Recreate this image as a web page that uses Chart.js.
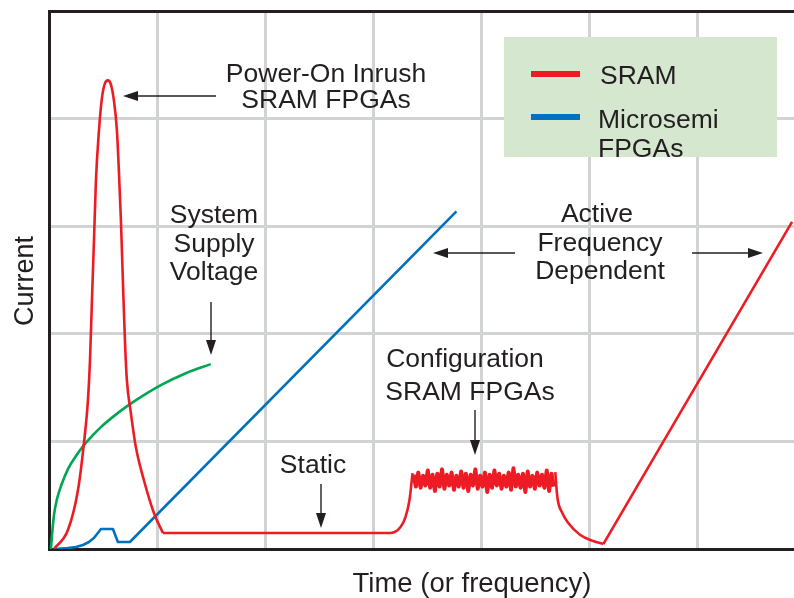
<!DOCTYPE html>
<html>
<head>
<meta charset="utf-8">
<script src="https://cdn.jsdelivr.net/npm/chart.js@4/dist/chart.umd.min.js"></script>
<style>
  body { margin: 0; background: #fff; }
  canvas { display: block; }
</style>
</head>
<body>
<canvas id="chart" width="794" height="598"></canvas>
<script>
// axes are in grid units (one grid cell = 1)
const xMax = 6.888;
const yMax = 5;

// SRAM FPGA: power-on inrush spike
const sramInrushX = [0.046, 0.175, 0.268, 0.323, 0.360, 0.379, 0.397, 0.416, 0.434, 0.462, 0.489, 0.517, 0.545,
                     0.572, 0.600, 0.628, 0.646, 0.665, 0.683, 0.702, 0.720, 0.757, 0.803, 0.877, 0.970, 1.053];
const sramInrushY = [0.000, 0.176, 0.548, 0.984, 1.383, 1.755, 2.312, 2.869, 3.426, 3.890, 4.188, 4.327, 4.355,
                     4.318, 4.169, 3.890, 3.519, 3.055, 2.498, 1.941, 1.569, 1.263, 0.947, 0.641, 0.334, 0.149];

// SRAM FPGA: static level, then rise into configuration
const sramStaticX = [1.053, 3.158, 3.250, 3.296, 3.333, 3.361];
const sramStaticY = [0.149, 0.149, 0.204, 0.297, 0.455, 0.706];

// SRAM FPGA: noisy configuration current
const sramConfigX = [3.370, 3.392, 3.414, 3.436, 3.458, 3.480, 3.502, 3.524, 3.546, 3.568,
                     3.590, 3.612, 3.634, 3.656, 3.678, 3.700, 3.722, 3.744, 3.766, 3.788,
                     3.810, 3.832, 3.854, 3.876, 3.898, 3.920, 3.942, 3.964, 3.986, 4.008,
                     4.030, 4.052, 4.074, 4.096, 4.118, 4.140, 4.162, 4.184, 4.206, 4.228,
                     4.250, 4.272, 4.294, 4.316, 4.338, 4.360, 4.382, 4.404, 4.426, 4.448,
                     4.470, 4.492, 4.514, 4.536, 4.558, 4.580, 4.602, 4.624, 4.646, 4.668];
const sramConfigY = [0.69, 0.58, 0.71, 0.57, 0.68, 0.59, 0.73, 0.57, 0.69, 0.54,
                     0.70, 0.58, 0.74, 0.56, 0.69, 0.59, 0.71, 0.55, 0.68, 0.58,
                     0.72, 0.57, 0.70, 0.54, 0.69, 0.59, 0.74, 0.56, 0.68, 0.58,
                     0.71, 0.53, 0.69, 0.57, 0.73, 0.59, 0.70, 0.56, 0.68, 0.58,
                     0.71, 0.55, 0.75, 0.58, 0.69, 0.57, 0.70, 0.53, 0.72, 0.58,
                     0.68, 0.56, 0.71, 0.59, 0.69, 0.57, 0.73, 0.54, 0.70, 0.58];

// SRAM FPGA: decay after configuration, then active (frequency dependent) ramp
const sramDecayX = [4.681, 4.700, 4.746, 4.801, 4.912, 5.032, 5.125];
const sramDecayY = [0.715, 0.483, 0.334, 0.241, 0.130, 0.074, 0.046];
const sramActiveX = [5.125, 6.870];
const sramActiveY = [0.046, 3.040];

// Microsemi FPGA
const microsemiX = [0.046, 0.175, 0.249, 0.314, 0.369, 0.415, 0.452, 0.480, 0.591, 0.637, 0.748, 3.767];
const microsemiY = [0.000, 0.009, 0.019, 0.037, 0.065, 0.102, 0.149, 0.186, 0.186, 0.065, 0.065, 3.138];

// System supply voltage
const supplyX = [0.018, 0.028, 0.046, 0.074, 0.111, 0.175, 0.249, 0.323, 0.406, 0.480, 0.600, 0.729, 0.877, 1.034, 1.265, 1.496];
const supplyY = [0.000, 0.130, 0.316, 0.464, 0.585, 0.743, 0.864, 0.966, 1.058, 1.133, 1.235, 1.332, 1.430, 1.523, 1.634, 1.718];

const red = '#ed1c24';
const blue = '#0072bc';
const green = '#00a651';
const ink = '#231f20';
const gridGrey = '#d1d3d4';
const fontFamily = '"Liberation Sans", Arial, Helvetica, sans-serif';

function points(xs, ys) {
    return xs.map((x, i) => ({ x: x, y: ys[i] }));
}

function line(label, xs, ys, color, opts) {
    return Object.assign({
        label: label,
        data: points(xs, ys),
        borderColor: color,
        borderWidth: 2.6,
        borderJoinStyle: 'round',
        pointRadius: 0,
        showLine: true,
        fill: false,
        tension: 0
    }, opts || {});
}

function arrow(ctx, x1, y1, x2, y2) {
    const a = Math.atan2(y2 - y1, x2 - x1);
    const len = 15, half = 5;
    ctx.beginPath();
    ctx.moveTo(x1, y1);
    ctx.lineTo(x2 - Math.cos(a) * len * 0.8, y2 - Math.sin(a) * len * 0.8);
    ctx.stroke();
    ctx.beginPath();
    ctx.moveTo(x2, y2);
    ctx.lineTo(x2 - Math.cos(a) * len - Math.sin(a) * half, y2 - Math.sin(a) * len + Math.cos(a) * half);
    ctx.lineTo(x2 - Math.cos(a) * len + Math.sin(a) * half, y2 - Math.sin(a) * len - Math.cos(a) * half);
    ctx.closePath();
    ctx.fill();
}

const annotations = {
    id: 'annotations',
    afterDraw(chart) {
        const ctx = chart.ctx;
        ctx.save();
        ctx.fillStyle = ink;
        ctx.strokeStyle = ink;
        ctx.lineWidth = 1.4;
        ctx.textBaseline = 'alphabetic';
        ctx.textAlign = 'center';
        ctx.font = '26.5px ' + fontFamily;

        ctx.fillText('Power-On Inrush', 326, 82);
        ctx.fillText('SRAM FPGAs', 326, 108);
        arrow(ctx, 216, 96, 123, 96);

        ctx.fillText('System', 214, 223);
        ctx.fillText('Supply', 214, 252);
        ctx.fillText('Voltage', 214, 280);
        arrow(ctx, 211, 302, 211, 355);

        ctx.fillText('Active', 597, 222);
        ctx.fillText('Frequency', 600, 251);
        ctx.fillText('Dependent', 600, 279);
        arrow(ctx, 515, 253, 433, 253);
        arrow(ctx, 692, 253, 763, 253);

        ctx.fillText('Configuration', 465, 367);
        ctx.fillText('SRAM FPGAs', 470, 400);
        arrow(ctx, 475, 410, 475, 455);

        ctx.fillText('Static', 313, 473);
        arrow(ctx, 321, 484, 321, 528);

        // legend
        ctx.fillStyle = '#d6e7d0';
        ctx.fillRect(504, 37, 273, 120);
        ctx.lineWidth = 6;
        ctx.strokeStyle = red;
        ctx.beginPath(); ctx.moveTo(531, 74); ctx.lineTo(580, 74); ctx.stroke();
        ctx.strokeStyle = blue;
        ctx.beginPath(); ctx.moveTo(531, 117); ctx.lineTo(580, 117); ctx.stroke();
        ctx.fillStyle = ink;
        ctx.textAlign = 'left';
        ctx.fillText('SRAM', 600, 84);
        ctx.fillText('Microsemi', 598, 128);
        ctx.fillText('FPGAs', 598, 157);

        // axis titles
        ctx.font = '27.5px ' + fontFamily;
        ctx.textAlign = 'center';
        ctx.fillText('Time (or frequency)', 472, 592);
        ctx.font = '27px ' + fontFamily;
        ctx.translate(33, 281);
        ctx.rotate(-Math.PI / 2);
        ctx.fillText('Current', 0, 0);
        ctx.restore();
    }
};

const chart = new Chart(document.getElementById('chart').getContext('2d'), {
    type: 'scatter',
    data: {
        datasets: [
            line('SRAM', sramInrushX, sramInrushY, red, { cubicInterpolationMode: 'monotone' }),
            line('SRAM static', sramStaticX, sramStaticY, red, { cubicInterpolationMode: 'monotone' }),
            line('SRAM config', sramConfigX, sramConfigY, red, { borderWidth: 4 }),
            line('SRAM decay', sramDecayX, sramDecayY, red, { cubicInterpolationMode: 'monotone' }),
            line('SRAM active', sramActiveX, sramActiveY, red),
            line('Microsemi FPGAs', microsemiX, microsemiY, blue),
            line('System Supply Voltage', supplyX, supplyY, green, { cubicInterpolationMode: 'monotone' })
        ]
    },
    options: {
        responsive: false,
        animation: false,
        layout: { padding: { left: 49, top: 11, right: 0, bottom: 49 } },
        plugins: {
            legend: { display: false },
            tooltip: { enabled: false }
        },
        scales: {
            x: {
                type: 'linear',
                min: 0,
                max: xMax,
                ticks: { display: false, stepSize: 1 },
                grid: {
                    drawTicks: false,
                    lineWidth: 3,
                    color: (c) => (c.tick && Number.isInteger(c.tick.value)) ? gridGrey : 'rgba(0,0,0,0)'
                },
                border: { color: ink, width: 3 }
            },
            y: {
                type: 'linear',
                min: 0,
                max: yMax,
                ticks: { display: false, stepSize: 1 },
                grid: {
                    drawTicks: false,
                    lineWidth: 3,
                    color: (c) => (c.tick && c.tick.value === yMax) ? ink : gridGrey
                },
                border: { color: ink, width: 3 }
            }
        }
    },
    plugins: [annotations]
});
</script>
</body>
</html>
